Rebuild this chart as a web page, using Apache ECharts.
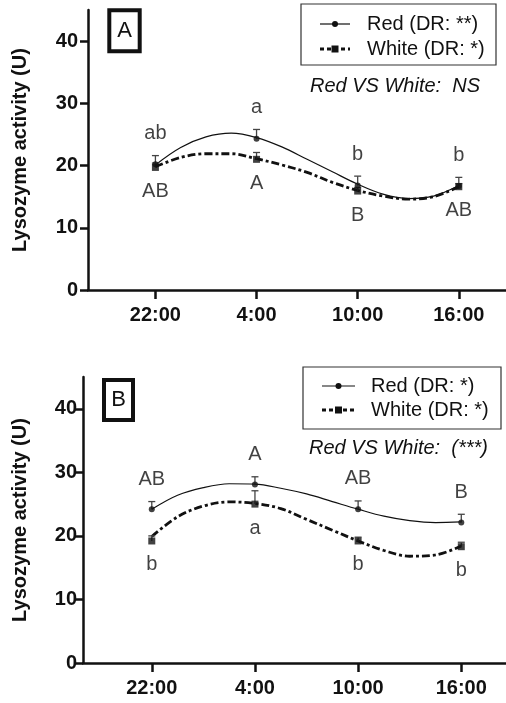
<!DOCTYPE html>
<html><head><meta charset="utf-8">
<script src="https://cdn.jsdelivr.net/npm/echarts@6/dist/echarts.min.js"></script>
<style>html,body{margin:0;padding:0;background:#fff}#c{width:506px;height:703px}</style>
</head><body><div id="c"></div>
<script>
// ---- data ----
const tickHours = [22, 28, 34, 40];
const tickLabels = ['22:00', '4:00', '10:00', '16:00'];
const yTicks = [0, 10, 20, 30, 40];

// Panel A
const redMeanA = [20.2, 24.3, 16.8, 16.7];
const redTopA = [21.6, 25.8, 18.3, 18.1];
const whiteMeanA = [19.7, 21.0, 15.9, 16.6];
const whiteTopA = [20.4, 22.1, 16.5, 17.1];
const upperLettersA = ['ab', 'a', 'b', 'b'];
const lowerLettersA = ['AB', 'A', 'B', 'AB'];

// Panel B
const redMeanB = [24.2, 28.1, 24.2, 22.1];
const redTopB = [25.4, 29.3, 25.5, 23.4];
const whiteMeanB = [19.2, 25.0, 19.2, 18.3];
const whiteTopB = [20.0, 27.1, 19.8, 19.0];
const upperLettersB = ['AB', 'A', 'AB', 'B'];
const lowerLettersB = ['b', 'a', 'b', 'b'];

// fitted curves
const curveHours = [22, 23.5, 25, 26.5, 28, 29.5, 31, 32.5, 34, 35.5, 37, 38.5, 40];
const redCurveA = [20.1, 22.9, 24.6, 25.2, 24.5, 23.0, 21.0, 19.0, 17.0, 15.4, 14.7, 15.1, 16.8];
const whiteCurveA = [19.8, 21.3, 21.9, 21.9, 21.1, 20.1, 18.9, 17.3, 16.0, 15.1, 14.6, 15.0, 16.6];
const redCurveB = [24.2, 26.4, 27.6, 28.2, 28.15, 27.5, 26.6, 25.4, 24.2, 23.1, 22.4, 22.1, 22.2];
const whiteCurveB = [19.9, 23.0, 24.7, 25.35, 25.1, 24.3, 22.6, 20.9, 19.2, 17.7, 16.8, 17.0, 18.4];

const legendA = ['Red (DR: **)', 'White (DR: *)'];
const legendB = ['Red (DR: *)', 'White (DR: *)'];
const compareA = 'Red VS White:  NS';
const compareB = 'Red VS White:  (***)';
const yName = 'Lysozyme activity (U)';

// ---- chart ----
const FONT = '"Liberation Sans", Arial, sans-serif';
const INK = '#111';
const chart = echarts.init(document.getElementById('c'));

function pairs(xs, ys) { return xs.map((x, i) => [x, ys[i]]); }

function xAxisDef(gi, max) {
  return {
    type: 'value', gridIndex: gi, min: 18, max: max,
    axisLine: { show: true, onZero: false, lineStyle: { color: INK, width: 2.5 } },
    axisTick: { show: true, customValues: tickHours, length: 9, lineStyle: { color: INK, width: 2.5 } },
    axisLabel: { customValues: tickHours, margin: 15, color: INK, fontFamily: FONT, fontSize: 20, fontWeight: 'bold',
      formatter: v => tickLabels[tickHours.indexOf(v)] },
    splitLine: { show: false }
  };
}
function yAxisDef(gi, gap, margin) {
  return {
    type: 'value', gridIndex: gi, min: 0, max: 45,
    name: yName, nameLocation: 'middle', nameGap: gap,
    nameTextStyle: { color: INK, fontFamily: FONT, fontSize: 20, fontWeight: 'bold' },
    axisLine: { show: true, lineStyle: { color: INK, width: 2.5 } },
    axisTick: { show: true, customValues: yTicks, length: 8, lineStyle: { color: INK, width: 2.5 } },
    axisLabel: { customValues: yTicks, margin: margin, color: INK, fontFamily: FONT, fontSize: 20, fontWeight: 'bold' },
    splitLine: { show: false }
  };
}

function errorSeries(gi, means, tops) {
  return {
    type: 'custom', xAxisIndex: gi, yAxisIndex: gi, z: 3,
    data: tickHours.map((h, i) => [h, means[i], tops[i]]),
    renderItem: (params, api) => {
      const p0 = api.coord([api.value(0), api.value(1)]);
      const p1 = api.coord([api.value(0), api.value(2)]);
      const st = { stroke: '#444', lineWidth: 1.3 };
      return { type: 'group', children: [
        { type: 'line', shape: { x1: p0[0], y1: p0[1], x2: p1[0], y2: p1[1] }, style: st },
        { type: 'line', shape: { x1: p1[0] - 3.5, y1: p1[1], x2: p1[0] + 3.5, y2: p1[1] }, style: st }
      ] };
    }
  };
}
function letterSeries(gi, ys, letters, dy) {
  return {
    type: 'scatter', xAxisIndex: gi, yAxisIndex: gi, symbolSize: 0, z: 5,
    data: tickHours.map((h, i) => [h, ys[i]]),
    label: { show: true, position: 'inside', offset: [0, dy], color: INK, fontFamily: FONT, fontSize: 20,
      formatter: p => letters[p.dataIndex] }
  };
}
function panelSeries(gi, rc, wc, rm, rt, wm, wt, up, lo) {
  return [
    { type: 'line', xAxisIndex: gi, yAxisIndex: gi, data: pairs(curveHours, rc), smooth: 0.35, showSymbol: false,
      lineStyle: { color: INK, width: 1.2 }, z: 2 },
    { type: 'line', xAxisIndex: gi, yAxisIndex: gi, data: pairs(curveHours, wc), smooth: 0.35, showSymbol: false,
      lineStyle: { color: INK, width: 2.8, type: [8, 3, 3, 3] }, z: 2 },
    errorSeries(gi, rm, rt),
    errorSeries(gi, wm, wt),
    { type: 'scatter', xAxisIndex: gi, yAxisIndex: gi, data: pairs(tickHours, rm), symbol: 'circle', symbolSize: 6,
      itemStyle: { color: INK }, z: 4 },
    { type: 'scatter', xAxisIndex: gi, yAxisIndex: gi, data: pairs(tickHours, wm), symbol: 'rect', symbolSize: 7,
      itemStyle: { color: INK }, z: 4 },
    letterSeries(gi, rt, up, -22),
    letterSeries(gi, wm, lo, 24)
  ];
}

function panelGraphics(box, letter, legTexts, leg, legY, legLine, legTextX, cmp, cmpX, cmpY) {
  const els = [];
  els.push({ type: 'rect', shape: { x: box[0], y: box[1], width: box[2], height: box[3] },
    style: { fill: '#fff', stroke: INK, lineWidth: 4 } });
  els.push({ type: 'text', x: box[0] + box[2] / 2, y: box[1] + box[3] / 2,
    style: { text: letter, font: '22px ' + FONT, fill: INK, align: 'center', verticalAlign: 'middle' } });
  els.push({ type: 'rect', shape: { x: leg[0], y: leg[1], width: leg[2], height: leg[3] },
    style: { fill: '#fff', stroke: '#333', lineWidth: 1.2 } });
  const mid = (legLine[0] + legLine[1]) / 2;
  els.push({ type: 'line', shape: { x1: legLine[0], y1: legY[0], x2: legLine[1], y2: legY[0] },
    style: { stroke: INK, lineWidth: 1.2 } });
  els.push({ type: 'circle', shape: { cx: mid, cy: legY[0], r: 3 }, style: { fill: INK } });
  els.push({ type: 'line', shape: { x1: legLine[0], y1: legY[1], x2: legLine[1], y2: legY[1] },
    style: { stroke: INK, lineWidth: 2.8, lineDash: [4, 3] } });
  els.push({ type: 'rect', shape: { x: mid - 3.5, y: legY[1] - 3.5, width: 7, height: 7 }, style: { fill: INK } });
  for (let i = 0; i < 2; i++) {
    els.push({ type: 'text', x: legTextX, y: legY[i],
      style: { text: legTexts[i], font: '20px ' + FONT, fill: INK, align: 'left', verticalAlign: 'middle' } });
  }
  els.push({ type: 'text', x: cmpX, y: cmpY,
    style: { text: cmp, font: 'italic 20px ' + FONT, fill: INK, align: 'left', verticalAlign: 'middle' } });
  return els;
}

const option = {
  animation: false,
  backgroundColor: '#fff',
  grid: [
    { left: 88, right: 0, top: 10, height: 280, containLabel: false },
    { left: 83, right: 0, top: 377, height: 286, containLabel: false }
  ],
  xAxis: [xAxisDef(0, 42.8), xAxisDef(1, 42.6)],
  yAxis: [yAxisDef(0, 58, 10), yAxisDef(1, 53, 6)],
  series: [
    ...panelSeries(0, redCurveA, whiteCurveA, redMeanA, redTopA, whiteMeanA, whiteTopA, upperLettersA, lowerLettersA),
    ...panelSeries(1, redCurveB, whiteCurveB, redMeanB, redTopB, whiteMeanB, whiteTopB, upperLettersB, lowerLettersB)
  ],
  graphic: [
    ...panelGraphics([109.3, 10.3, 30.4, 41], 'A', legendA, [301, 4, 195, 61], [24, 49], [320, 350], 367, compareA, 310, 86),
    ...panelGraphics([104, 380, 29, 40], 'B', legendB, [303, 367, 198, 62], [386, 410], [322, 355], 371, compareB, 309, 448)
  ]
};
chart.setOption(option);
</script></body></html>
